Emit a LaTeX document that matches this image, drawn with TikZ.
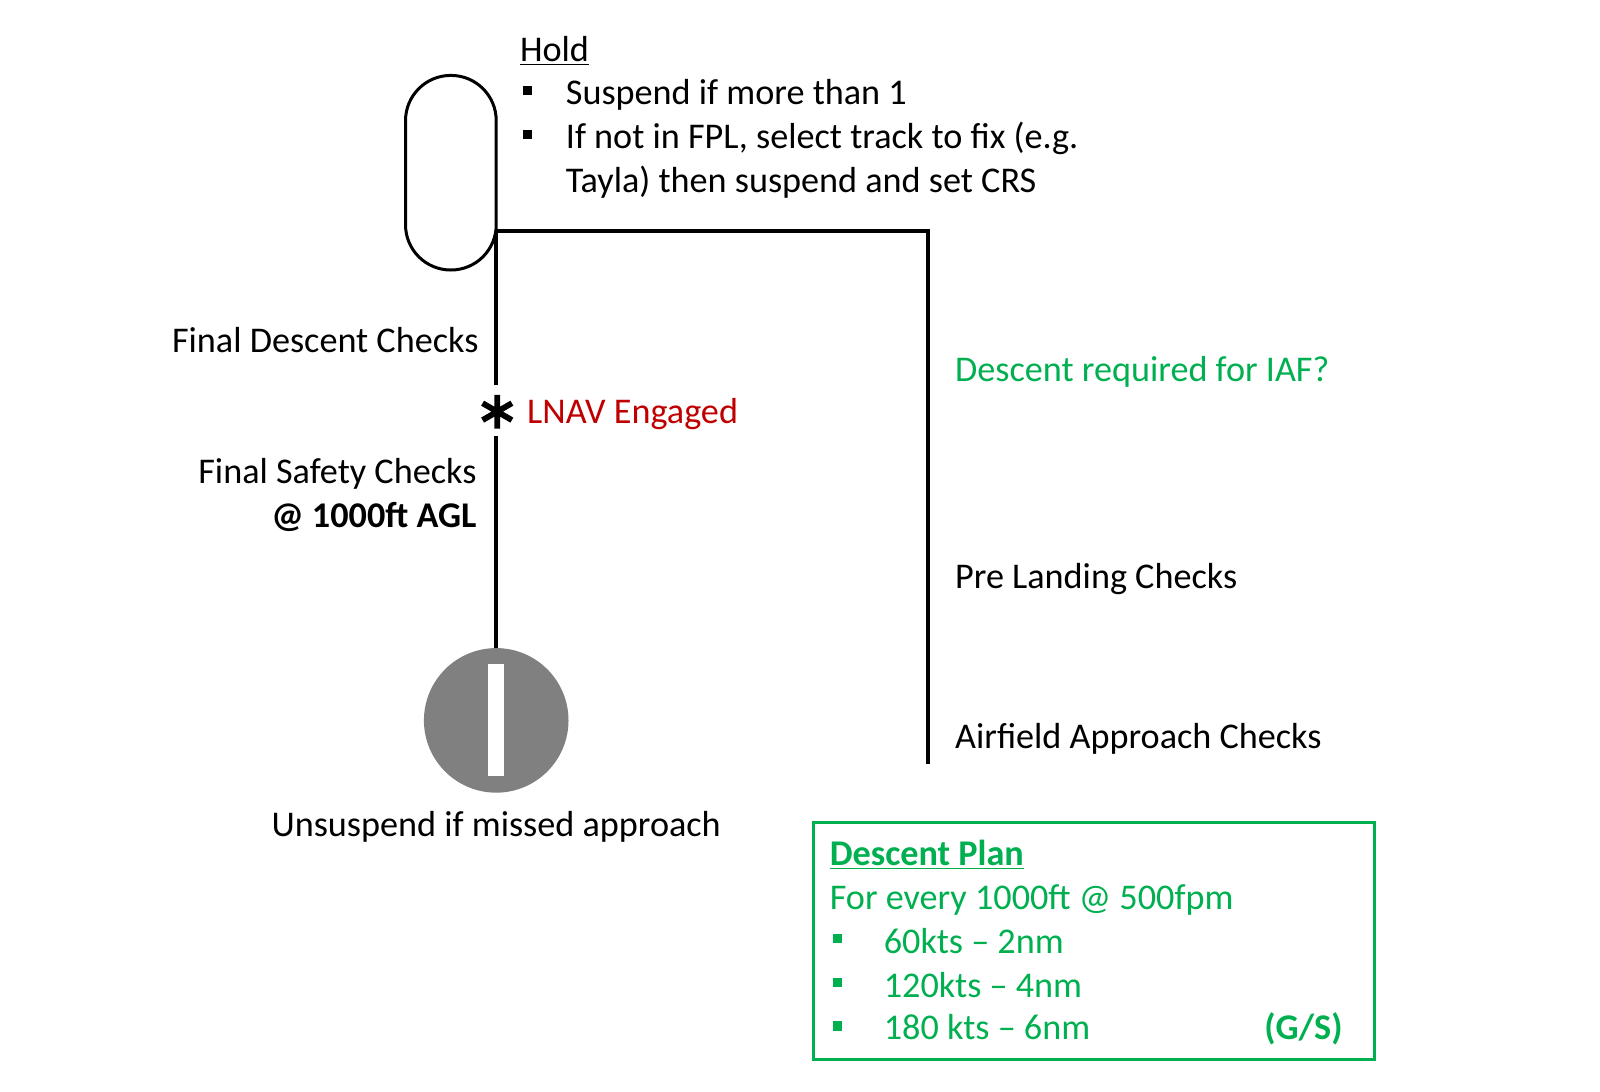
\documentclass[tikz,border=0pt]{standalone}
\usepackage{fontspec}
\setmainfont{Carlito}
\definecolor{pgreen}{RGB}{0,176,80}
\definecolor{pred}{RGB}{192,0,0}
\definecolor{pgray}{RGB}{128,128,128}
\tikzset{
  lbl/.style={inner sep=0pt, font=\fontsize{18.1}{22}\selectfont},
  conn/.style={line width=2.1pt, black},
  sq/.style={fill=#1, inner sep=0pt, minimum size=4.6pt},
}
\begin{document}
\begin{tikzpicture}[x=0.5095pt,y=-0.5095pt]
\useasboundingbox (0,0) rectangle (1570.3,1071.7);
% hold racetrack
\node[draw, line width=1.5pt, minimum width=45.35pt, minimum height=97.3pt, rounded corners=22.6pt, inner sep=0pt] (hold) at (442.5,169.5) {};
\coordinate (j) at (487,227);
\coordinate (corner) at (911,227);
\coordinate (rend) at (911,750);
\coordinate (s1) at (487,378);
\coordinate (s2) at (487,428);
% stop circle
\node[circle, fill=pgray, minimum size=72.3pt, inner sep=0pt] (stop) at (487,707) {};
\node[fill=white, minimum width=8.15pt, minimum height=56pt, inner sep=0pt] (bar) at (stop.center) {};
% connectors
\draw[conn] (j) -- (corner) -- (rend);
\draw[conn] (j) -- (s1);
\draw[conn] (s2) -- (stop.north);
% asterisk
\node[circle, minimum size=16.5pt, inner sep=0pt] (star) at (488,404) {};
\draw[line width=2.9pt] (star.90) -- (star.270) (star.30) -- (star.210) (star.150) -- (star.330);
% hold text
\node[lbl, anchor=base west] (holdt) at (510,60) {\underline{Hold}};
\node[sq=black] (b1) at (518,89) {};
\node[sq=black] (b2) at (518,132) {};
\node[lbl, anchor=base west] (h1) at (555,102.5) {Suspend if more than 1};
\node[lbl, anchor=base west] (h2) at (555,145.5) {If not in FPL, select track to fix (e.g.};
\node[lbl, anchor=base west] (h3) at (555,188.5) {Tayla) then suspend and set CRS};
% left labels
\node[lbl, anchor=base east] (fdc) at (470,346) {Final Descent Checks};
\node[lbl, anchor=base west, text=pred] (lnav) at (517,416) {LNAV Engaged};
\node[lbl, anchor=base east] (fsc) at (468,474.5) {Final Safety Checks};
\node[lbl, anchor=base east, font=\fontsize{18.1}{22}\selectfont\bfseries] (agl) at (468,517.5) {@ 1000ft AGL};
\node[lbl, anchor=base] (uns) at (487,820.5) {Unsuspend if missed approach};
% right labels
\node[lbl, anchor=base west, text=pgreen] (iaf) at (937,374.5) {Descent required for IAF?};
\node[lbl, anchor=base west] (plc) at (937,577.5) {Pre Landing Checks};
\node[lbl, anchor=base west] (aac) at (937,734.5) {Airfield Approach Checks};
% descent plan box
\node[draw=pgreen, line width=1.5pt, minimum width=280.7pt, minimum height=118.7pt, inner sep=0pt] (plan) at (1073.5,923.5) {};
\node[lbl, anchor=base west, text=pgreen, font=\fontsize{18.1}{22}\selectfont\bfseries] (dp) at (814,849.5) {\underline{Descent Plan}};
\node[lbl, anchor=base west, text=pgreen] (fe) at (814,892.5) {For every 1000ft @ 500fpm};
\node[sq=pgreen] (g1) at (822,921) {};
\node[sq=pgreen] (g2) at (822,964) {};
\node[sq=pgreen] (g3) at (822,1007) {};
\node[lbl, anchor=base west, text=pgreen] (k1) at (867,935.5) {60kts – 2nm};
\node[lbl, anchor=base west, text=pgreen] (k2) at (867,978.5) {120kts – 4nm};
\node[lbl, anchor=base west, text=pgreen] (k3) at (867,1020.5) {180 kts – 6nm};
\node[lbl, anchor=base east, text=pgreen, font=\fontsize{18.1}{22}\selectfont\bfseries] (gs) at (1318,1020.5) {(G/S)};
\end{tikzpicture}
\end{document}
